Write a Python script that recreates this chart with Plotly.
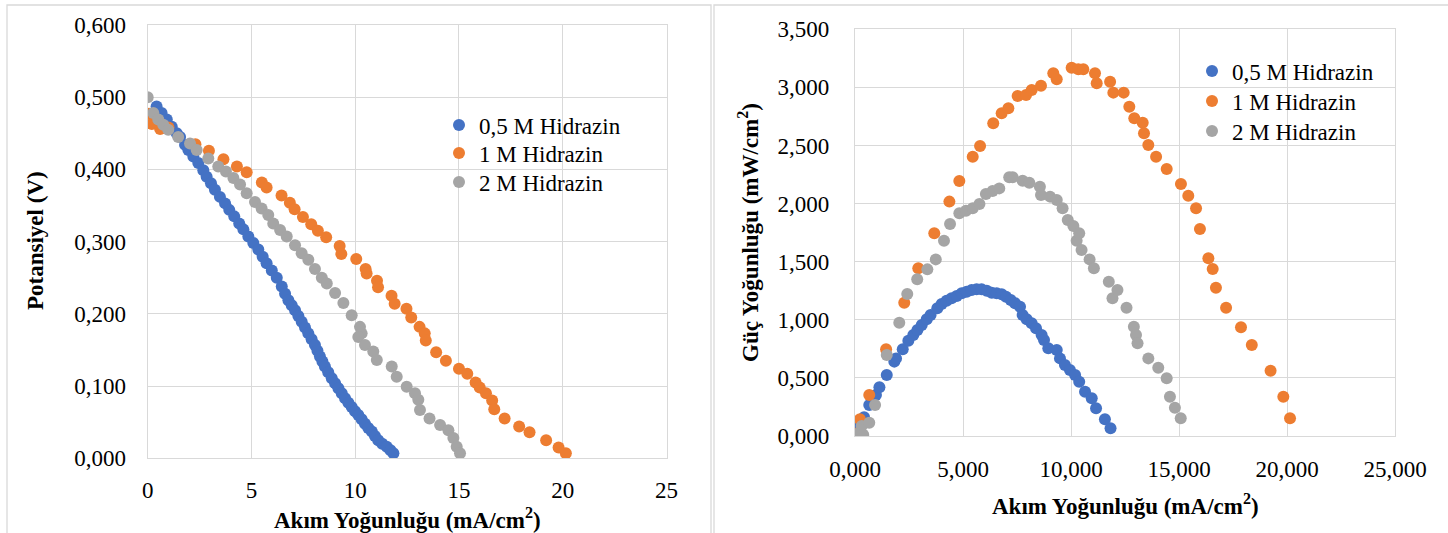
import plotly.graph_objects as go

W, H = 1448, 533

# ---------- data: left chart (Potansiyel vs Akım Yoğunluğu) ----------
blue_v_x = [0.43, 0.67, 0.92, 1.16, 1.40, 1.56, 1.80, 1.96, 2.20, 2.44, 2.68, 2.84, 3.05, 3.24, 3.48,
            3.73, 3.93, 4.17, 4.41, 4.61, 4.85, 5.09, 5.33, 5.54, 5.73, 5.98, 6.22, 6.46, 6.62, 6.78,
            6.94, 7.10, 7.26, 7.42, 7.58, 7.74, 7.90, 8.06, 8.18, 8.30, 8.42, 8.54, 8.70, 8.87, 9.03,
            9.19, 9.35, 9.51, 9.67, 9.83, 9.99, 10.15, 10.31, 10.47, 10.63, 10.80, 10.95, 11.11, 11.30,
            11.52, 11.70, 11.84]
blue_v_y = [0.487, 0.478, 0.469, 0.459, 0.450, 0.445, 0.434, 0.427, 0.418, 0.409, 0.399, 0.390, 0.381,
            0.372, 0.362, 0.353, 0.344, 0.335, 0.325, 0.317, 0.307, 0.298, 0.289, 0.279, 0.270, 0.260,
            0.250, 0.238, 0.228, 0.219, 0.212, 0.205, 0.197, 0.189, 0.181, 0.173, 0.165, 0.157, 0.149,
            0.141, 0.134, 0.127, 0.119, 0.111, 0.104, 0.097, 0.090, 0.083, 0.077, 0.071, 0.065, 0.060,
            0.054, 0.048, 0.042, 0.037, 0.031, 0.025, 0.020, 0.016, 0.011, 0.007]

orange_v_x = [0.06, 0.2, 0.6, 1.0, 2.3, 2.95, 3.65, 4.3, 4.77, 5.5, 5.73, 6.45, 6.85, 7.08, 7.48, 7.88,
              8.2, 8.6, 9.25, 9.33, 10.05, 10.5, 10.55, 11.05, 11.1, 11.75, 11.9, 12.47, 12.7, 13.1,
              13.35, 13.4, 13.9, 14.37, 15.0, 15.4, 15.8, 16.0, 16.3, 16.6, 16.7, 17.2, 17.9, 18.4,
              19.2, 19.8, 20.15]
orange_v_y = [0.477, 0.463, 0.456, 0.458, 0.435, 0.426, 0.414, 0.404, 0.396, 0.382, 0.375, 0.364, 0.354,
              0.345, 0.334, 0.324, 0.315, 0.306, 0.294, 0.283, 0.276, 0.262, 0.256, 0.246, 0.237, 0.225,
              0.214, 0.207, 0.195, 0.182, 0.173, 0.163, 0.147, 0.135, 0.124, 0.117, 0.105, 0.098, 0.090,
              0.080, 0.068, 0.055, 0.044, 0.036, 0.025, 0.015, 0.007]

gray_v_x = [0.0, 0.27, 0.51, 0.75, 0.99, 1.47, 2.04, 2.36, 2.92, 3.40, 3.77, 4.13, 4.45, 4.77, 5.17,
            5.49, 5.81, 6.05, 6.38, 6.70, 7.10, 7.42, 7.74, 8.06, 8.39, 8.63, 9.03, 9.43, 9.83, 10.23,
            10.31, 10.15, 10.47, 10.87, 11.04, 11.76, 12.00, 12.48, 12.88, 13.04, 13.12, 13.58, 14.09,
            14.49, 14.73, 14.89, 15.05]
gray_v_y = [0.500, 0.478, 0.469, 0.462, 0.455, 0.445, 0.436, 0.427, 0.415, 0.404, 0.397, 0.388, 0.379,
            0.367, 0.355, 0.346, 0.337, 0.325, 0.316, 0.307, 0.295, 0.284, 0.275, 0.262, 0.250, 0.242,
            0.229, 0.215, 0.198, 0.182, 0.173, 0.168, 0.157, 0.148, 0.136, 0.127, 0.113, 0.099, 0.090,
            0.081, 0.067, 0.055, 0.046, 0.039, 0.028, 0.016, 0.007]

# ---------- data: right chart (Güç Yoğunluğu vs Akım Yoğunluğu) ----------
blue_p_x = [0.0, 0.23, 0.42, 0.66, 0.97, 1.13, 1.47, 1.82, 1.90, 2.21, 2.47, 2.70, 2.89, 3.09, 3.32,
            3.50, 3.81, 4.01, 4.24, 4.47, 4.71, 4.94, 5.17, 5.40, 5.63, 5.86, 6.10, 6.33, 6.56, 6.79,
            6.99, 7.21, 7.41, 7.64, 7.76, 7.95, 8.18, 8.38, 8.64, 8.75, 8.95, 9.34, 9.49, 9.72, 9.95,
            10.19, 10.38, 10.65, 10.96, 11.16, 11.57, 11.83]
blue_p_y = [0.0, 0.080, 0.161, 0.267, 0.353, 0.419, 0.525, 0.640, 0.668, 0.746, 0.820, 0.869, 0.912,
            0.955, 1.004, 1.041, 1.099, 1.136, 1.164, 1.185, 1.205, 1.228, 1.242, 1.256, 1.262, 1.262,
            1.250, 1.233, 1.228, 1.219, 1.199, 1.170, 1.142, 1.113, 1.041, 1.004, 0.970, 0.927, 0.869,
            0.826, 0.755, 0.740, 0.668, 0.611, 0.568, 0.525, 0.467, 0.381, 0.324, 0.238, 0.144, 0.066]

orange_p_x = [0.05, 0.23, 0.66, 1.44, 2.28, 2.93, 3.67, 4.37, 4.83, 5.45, 5.79, 6.40, 6.79, 7.10, 7.53,
              7.92, 8.18, 8.61, 9.18, 9.34, 10.03, 10.34, 10.57, 11.11, 11.19, 11.81, 11.96, 12.44,
              12.70, 12.93, 13.32, 13.38, 13.58, 13.94, 14.43, 15.09, 15.43, 15.79, 15.97, 16.36,
              16.56, 16.71, 17.18, 17.87, 18.37, 19.24, 19.83, 20.14]
orange_p_y = [0.02, 0.144, 0.353, 0.746, 1.147, 1.443, 1.744, 2.017, 2.194, 2.404, 2.496, 2.691, 2.777,
              2.820, 2.926, 2.935, 2.978, 3.015, 3.121, 3.070, 3.170, 3.156, 3.156, 3.121, 3.035, 3.049,
              2.955, 2.955, 2.834, 2.734, 2.696, 2.605, 2.504, 2.404, 2.298, 2.169, 2.068, 1.959, 1.781,
              1.529, 1.437, 1.276, 1.104, 0.935, 0.783, 0.562, 0.338, 0.152]

gray_p_x = [0.0, 0.15, 0.31, 0.38, 0.66, 0.93, 1.47, 2.05, 2.42, 2.88, 3.35, 3.74, 4.12, 4.40, 4.83,
            5.14, 5.45, 5.76, 6.06, 6.37, 6.68, 7.14, 7.30, 7.76, 8.07, 8.56, 8.61, 9.03, 9.34, 9.61,
            9.85, 10.11, 10.26, 10.38, 10.49, 10.86, 11.06, 11.75, 11.92, 12.15, 12.57, 12.91, 13.01,
            13.08, 13.58, 14.04, 14.43, 14.58, 14.81, 15.08]
gray_p_y = [0.0, 0.02, 0.086, 0.01, 0.115, 0.267, 0.697, 0.975, 1.222, 1.348, 1.434, 1.520, 1.681, 1.824,
            1.916, 1.939, 1.959, 1.997, 2.083, 2.108, 2.131, 2.226, 2.226, 2.197, 2.180, 2.145, 2.074,
            2.060, 2.031, 1.959, 1.859, 1.807, 1.681, 1.744, 1.601, 1.520, 1.443, 1.328, 1.185, 1.256,
            1.104, 0.941, 0.869, 0.798, 0.668, 0.588, 0.496, 0.338, 0.244, 0.152]

series_names = ["0,5 M Hidrazin", "1 M Hidrazin", "2 M Hidrazin"]
colors = ["#4472C4", "#ED7D31", "#A5A5A5"]

left_tick_x = [0, 5, 10, 15, 20, 25]
left_tick_y = [0.0, 0.1, 0.2, 0.3, 0.4, 0.5, 0.6]
right_tick_x = [0, 5, 10, 15, 20, 25]
right_tick_y = [0.0, 0.5, 1.0, 1.5, 2.0, 2.5, 3.0, 3.5]

x_title = "Akım Yoğunluğu (mA/cm<sup>2</sup>)"
y_title_left = "Potansiyel (V)"
y_title_right = "Güç Yoğunluğu (mW/cm<sup>2</sup>)"

FONT = "Liberation Serif, Times New Roman, serif"
FS = 23
GRID = "#D9D9D9"


def px(x):
    return x / W


def py(y):
    return 1 - y / H


fig = go.Figure()

left_sets = [(blue_v_x, blue_v_y), (orange_v_x, orange_v_y), (gray_v_x, gray_v_y)]
right_sets = [(blue_p_x, blue_p_y), (orange_p_x, orange_p_y), (gray_p_x, gray_p_y)]

# one legend per entry so the spacing can match the reference
left_leg_y = [125, 153, 182]
right_leg_y = [71, 101, 131]
legend_defs = {}
for i, ((xs, ys), name, c) in enumerate(zip(left_sets, series_names, colors)):
    lname = "legend" if i == 0 else f"legend{i + 1}"
    legend_defs[lname] = dict(x=px(439), y=py(left_leg_y[i]))
    fig.add_trace(go.Scatter(x=xs, y=ys, mode="markers", name=name,
                             marker=dict(color=c, size=12, line=dict(width=0)),
                             xaxis="x", yaxis="y", legend=lname))
for i, ((xs, ys), name, c) in enumerate(zip(right_sets, series_names, colors)):
    lname = f"legend{i + 4}"
    legend_defs[lname] = dict(x=px(1192), y=py(right_leg_y[i]))
    fig.add_trace(go.Scatter(x=xs, y=ys, mode="markers", name=name,
                             marker=dict(color=c, size=12, line=dict(width=0)),
                             xaxis="x2", yaxis="y2", legend=lname))

axis_common = dict(showgrid=True, gridcolor=GRID, gridwidth=1.3, zeroline=False,
                   showline=True, linecolor=GRID, linewidth=1.3, mirror=True,
                   ticks="", automargin=False,
                   tickfont=dict(family=FONT, size=FS, color="#000000"))

fig.update_layout(
    width=W, height=H, autosize=False,
    margin=dict(l=0, r=0, t=0, b=0, pad=0, autoexpand=False),
    paper_bgcolor="white", plot_bgcolor="white",
    separators=",.",
    font=dict(family=FONT, size=FS, color="#000000"),
    xaxis=dict(domain=[px(147.7), px(666.5)], range=[0, 25], tickvals=left_tick_x,
               tickformat="d", anchor="y", ticklabelstandoff=11, **axis_common),
    yaxis=dict(domain=[py(458.3), py(25)], range=[0, 0.6], tickvals=left_tick_y,
               tickformat=".3f", anchor="x", ticklabelstandoff=16, **axis_common),
    xaxis2=dict(domain=[px(855), px(1395)], range=[0, 25], tickvals=right_tick_x,
                tickformat=".3f", anchor="y2", ticklabelstandoff=12, **axis_common),
    yaxis2=dict(domain=[py(436), py(29.3)], range=[0, 3.5], tickvals=right_tick_y,
                tickformat=".3f", anchor="x2", ticklabelstandoff=20, **axis_common),
    showlegend=True,
)
legend_style = dict(xanchor="left", yanchor="middle", bgcolor="rgba(0,0,0,0)",
                    font=dict(family=FONT, size=FS, color="#000000"),
                    itemsizing="constant", borderwidth=0)
fig.update_layout(**{k: dict(**v, **legend_style) for k, v in legend_defs.items()})

# chart frames
fig.add_shape(type="rect", xref="paper", yref="paper", x0=px(7), x1=px(711), y0=py(560), y1=py(5),
              line=dict(color=GRID, width=1.3), layer="below")
fig.add_shape(type="rect", xref="paper", yref="paper", x0=px(714), x1=px(1470), y0=py(560), y1=py(5),
              line=dict(color=GRID, width=1.3), layer="below")

# axis titles
title_font = dict(family=FONT, size=FS, color="#000000")
fig.add_annotation(text="<b>" + x_title + "</b>", x=px(407), y=py(518), xref="paper", yref="paper",
                   showarrow=False, xanchor="center", yanchor="middle", font=title_font)
fig.add_annotation(text="<b>" + y_title_left + "</b>", x=px(35), y=py(241), xref="paper", yref="paper",
                   showarrow=False, xanchor="center", yanchor="middle", textangle=-90, font=title_font)
fig.add_annotation(text="<b>" + x_title + "</b>", x=px(1125), y=py(504), xref="paper", yref="paper",
                   showarrow=False, xanchor="center", yanchor="middle", font=title_font)
fig.add_annotation(text="<b>" + y_title_right + "</b>", x=px(748), y=py(232), xref="paper", yref="paper",
                   showarrow=False, xanchor="center", yanchor="middle", textangle=-90, font=title_font)

fig.write_html("out.html", config={"displayModeBar": False},
               post_script="document.body.style.margin='0';document.body.style.overflow='hidden';")
